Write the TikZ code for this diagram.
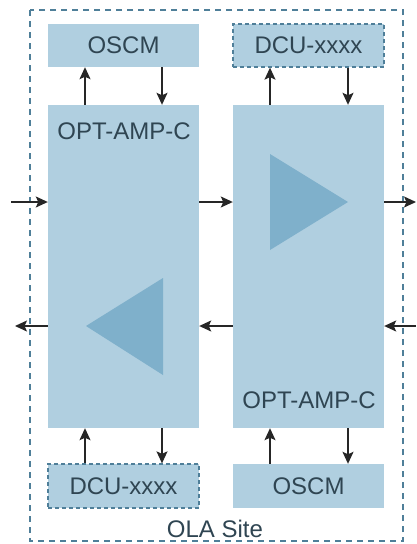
\documentclass[tikz,border=0pt]{standalone}
\usepackage{fontspec}
\setmainfont{Liberation Sans}
\usetikzlibrary{arrows.meta}
\definecolor{boxfill}{HTML}{B0CFE0}
\definecolor{trifill}{HTML}{7FB0CB}
\definecolor{edgeblue}{HTML}{4F7F99}
\definecolor{txt}{HTML}{2F4552}
\tikzset{
  x=1pt,y=-1pt,
  blockbox/.style={fill=boxfill,draw=none,inner sep=0pt,minimum width=151pt,text=txt,font=\fontsize{24}{26}\selectfont},
  optbox/.style={blockbox,draw=edgeblue,line width=1.3pt,dash pattern=on 4pt off 3pt},
  sitebox/.style={draw=edgeblue,line width=1.2pt,dash pattern=on 6pt off 5pt},
  arr/.style={-{Stealth[length=12pt,width=11pt,inset=2.5pt]},line width=1.4pt,color=black!85},
  tri/.style={fill=trifill,draw=none},
  lbl/.style={text=txt,font=\fontsize{24}{26}\selectfont,inner sep=0pt},
}
\begin{document}
\begin{tikzpicture}
\useasboundingbox (0,0) rectangle (416,544);
\fill[white] (0,0) rectangle (416,544);
\draw[sitebox] (30,10) rectangle (403,541);
\node[blockbox,minimum height=43pt] (oscmT) at (123.5,45.5) {OSCM};
\node[optbox,minimum height=43pt] (dcuT) at (308.5,45.5) {DCU-xxxx};
\node[blockbox,minimum height=323pt] (ampL) at (123.5,266.5) {};
\node[blockbox,minimum height=323pt] (ampR) at (308.5,266.5) {};
\node[optbox,minimum height=44pt] (dcuB) at (123.5,486) {DCU-xxxx};
\node[blockbox,minimum height=44pt] (oscmB) at (308.5,486) {OSCM};
\node[lbl] (ampLtext) at (124,131) {OPT-AMP-C};
\node[lbl] (ampRtext) at (309,400) {OPT-AMP-C};
\node[lbl] (site) at (215,529) {OLA Site};
\fill[tri] (270,154) -- (270,250) -- (348,202) -- cycle;
\fill[tri] (163,278) -- (163,375) -- (86,326) -- cycle;
\coordinate (xa) at (85,0);
\coordinate (xb) at (162,0);
\coordinate (xc) at (270,0);
\coordinate (xd) at (348,0);
\coordinate (yu) at (0,202);
\coordinate (yl) at (0,326);
\coordinate (inL) at (11,202);
\coordinate (outR) at (416,202);
\coordinate (outL) at (15,326);
\coordinate (inR) at (416,326);
\draw[arr] (ampL.north -| xa) -- (oscmT.south -| xa);
\draw[arr] (oscmT.south -| xb) -- (ampL.north -| xb);
\draw[arr] (ampR.north -| xc) -- (dcuT.south -| xc);
\draw[arr] (dcuT.south -| xd) -- (ampR.north -| xd);
\draw[arr] (dcuB.north -| xa) -- (ampL.south -| xa);
\draw[arr] (ampL.south -| xb) -- (dcuB.north -| xb);
\draw[arr] (oscmB.north -| xc) -- (ampR.south -| xc);
\draw[arr] (ampR.south -| xd) -- (oscmB.north -| xd);
\draw[arr] (inL) -- (ampL.west |- yu);
\draw[arr] (ampL.east |- yu) -- (ampR.west |- yu);
\draw[arr] (ampR.east |- yu) -- (outR);
\draw[arr] (inR) -- (ampR.east |- yl);
\draw[arr] (ampR.west |- yl) -- (ampL.east |- yl);
\draw[arr] (ampL.west |- yl) -- (outL);
\end{tikzpicture}
\end{document}
